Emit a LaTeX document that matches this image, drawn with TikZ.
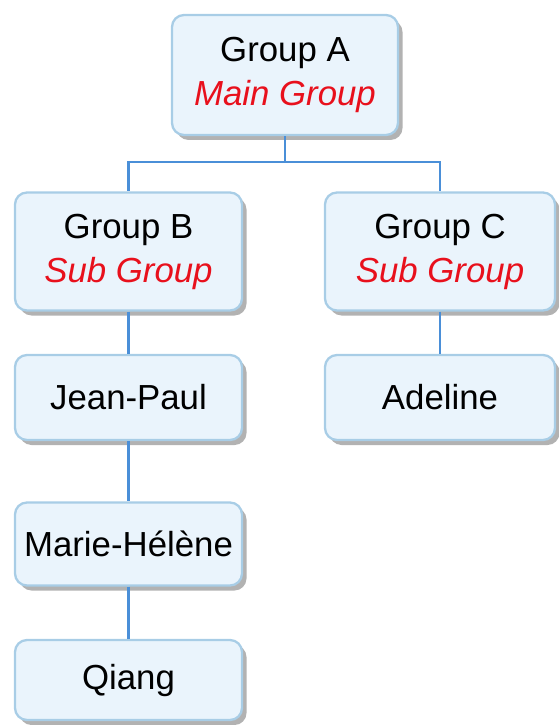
\documentclass[tikz,border=0pt]{standalone}
\usepackage{fontspec}
\setmainfont{Liberation Sans}
\usepackage{xcolor}
\usetikzlibrary{shadows}
\definecolor{boxfill}{HTML}{EAF4FC}
\definecolor{boxline}{HTML}{A8CDE6}
\definecolor{linkblue}{HTML}{4A8FD8}
\definecolor{subred}{HTML}{E8101C}
\tikzset{
  groupbox/.style={draw=boxline, line width=1.3pt, fill=boxfill, rounded corners=0.24cm,
    minimum width=4.54cm, minimum height=2.36cm, align=center, font=\fontsize{19.8}{25}\selectfont,
    drop shadow={shadow xshift=0.09cm, shadow yshift=-0.1cm, opacity=0.5, fill=black!60}},
  personbox/.style={groupbox, minimum height=1.66cm},
  link/.style={linkblue, line width=1.2pt}
}
\begin{document}
\begin{tikzpicture}
            \useasboundingbox (0,0) rectangle (11.18,-14.5);
            \node[groupbox, minimum width=4.52cm, minimum height=2.4cm] (groupA) at (5.7,-1.5)
                {Group A\\ \textcolor{subred}{\itshape Main Group}};
            \node[groupbox] (groupB) at (2.57,-5.03) {Group B\\ \textcolor{subred}{\itshape Sub Group}};
            \node[groupbox, minimum width=4.6cm] (groupC) at (8.8,-5.03) {Group C\\ \textcolor{subred}{\itshape Sub Group}};

            \node[personbox, minimum height=1.7cm] (jeanpaul) at (2.57,-7.95) {Jean-Paul};
            \node[personbox, minimum width=4.6cm, minimum height=1.7cm] (adeline) at (8.8,-7.95) {Adeline};
            \node[personbox] (mariehelene) at (2.57,-10.88) {Marie-Hélène};
            \node[personbox, minimum height=1.6cm] (qiang) at (2.57,-13.6) {Qiang};

            \coordinate (split) at (5.7,-3.24);
            \draw[link] (groupA.south) -- (split);
            \draw[link] (split) -| (groupB.north);
            \draw[link] (split) -| (groupC.north);
            \draw[link] (groupB.south) -- (jeanpaul.north);
            \draw[link] (groupC.south) -- (adeline.north);
            \draw[link] (jeanpaul.south) -- (mariehelene.north);
            \draw[link] (mariehelene.south) -- (qiang.north);
\end{tikzpicture}
\end{document}
